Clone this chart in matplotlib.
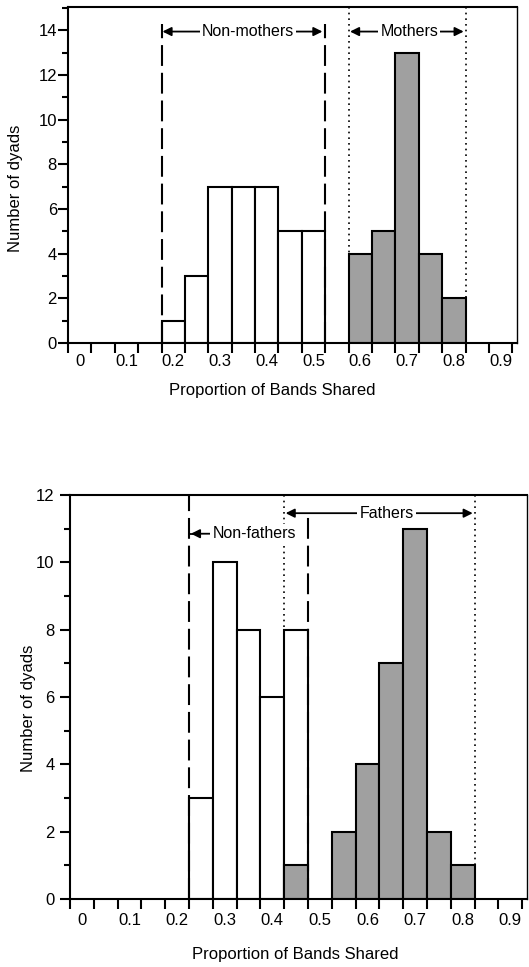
import matplotlib
matplotlib.use('Agg')
import matplotlib.pyplot as plt
import numpy as np

plt.rcParams['font.family'] = ['Liberation Sans', 'DejaVu Sans']

# ---------------- data ----------------
bin_width = 0.05

# top panel: mothers
top_nonmother_centers = [0.20, 0.25, 0.30, 0.35, 0.40, 0.45, 0.50]
top_nonmother_counts = [1, 3, 7, 7, 7, 5, 5]
top_mother_centers = [0.60, 0.65, 0.70, 0.75, 0.80]
top_mother_counts = [4, 5, 13, 4, 2]
top_nonmother_range = [0.175, 0.525]
top_mother_range = [0.575, 0.825]

# bottom panel: fathers
bot_nonfather_centers = [0.25, 0.30, 0.35, 0.40, 0.45]
bot_nonfather_counts = [3, 10, 8, 6, 8]
bot_father_centers = [0.45, 0.55, 0.60, 0.65, 0.70, 0.75, 0.80]
bot_father_counts = [1, 2, 4, 7, 11, 2, 1]
bot_nonfather_range = [0.225, 0.475]
bot_father_range = [0.425, 0.825]

x_label_values = [0, 0.1, 0.2, 0.3, 0.4, 0.5, 0.6, 0.7, 0.8, 0.9]
x_label_texts = ['0', '0.1', '0.2', '0.3', '0.4', '0.5', '0.6', '0.7', '0.8', '0.9']
x_edge_ticks = np.arange(-0.025, 0.93, bin_width)

GREY = '#a0a0a0'
W, H = 529, 967
fig = plt.figure(figsize=(W / 100, H / 100), dpi=100)


def px_axes(l, r, b, t):
    return fig.add_axes([l / W, 1 - b / H, (r - l) / W, (b - t) / H])


ax1 = px_axes(68, 517, 343, 7)
ax2 = px_axes(70, 527, 899, 495)

DASH = (0, (10, 3.3))
DOT = (0, (1, 2.4))


def style(ax, ymax, ymaj, ylabelpad, xlabelpad):
    ax.set_xlim(-0.025, 0.935)
    ax.set_ylim(0, ymax)
    for s in ax.spines.values():
        s.set_linewidth(1.5)
    ax.spines['right'].set_linewidth(1.0)
    ax.set_xticks(x_edge_ticks)
    ax.set_xticklabels([''] * len(x_edge_ticks))
    ax.set_xticks(x_label_values, minor=True)
    ax.set_xticklabels(x_label_texts, minor=True, fontsize=12)
    ax.tick_params(axis='x', which='major', direction='out', length=7, width=1.5)
    ax.tick_params(axis='x', which='minor', length=0, pad=xlabelpad)
    ax.set_yticks(np.arange(0, ymax + 0.01, ymaj))
    ax.set_yticks(np.arange(1, ymax, 2), minor=True)
    ax.tick_params(axis='y', which='major', direction='out', length=7, width=1.5,
                   labelsize=12, pad=ylabelpad)
    ax.tick_params(axis='y', which='minor', direction='out', length=4.3, width=1.5)


def arrow(ax, x0, x1, y):
    ax.annotate('', xy=(x1, y), xytext=(x0, y),
                arrowprops=dict(arrowstyle='-|>', color='k', lw=1.3,
                                mutation_scale=13, shrinkA=0, shrinkB=0),
                zorder=4)


def label(ax, x, y, s):
    ax.text(x, y, s, ha='center', va='center', fontsize=11.5, zorder=5,
            bbox=dict(facecolor='white', edgecolor='none', pad=1.5))


# ---------------- top panel ----------------
style(ax1, 15.05, 2, 1, 8)
ax1.bar(top_nonmother_centers, top_nonmother_counts, width=bin_width,
        color='white', edgecolor='black', linewidth=1.5, zorder=2)
ax1.bar(top_mother_centers, top_mother_counts, width=bin_width,
        color=GREY, edgecolor='black', linewidth=1.5, zorder=2)
for xv in top_nonmother_range:
    ax1.plot([xv, xv], [0, 14.3], color='black', lw=1.5, linestyle=DASH, zorder=3)
for xv in top_mother_range:
    ax1.plot([xv, xv], [0, 15.05], color='black', lw=1.2, linestyle=DOT, zorder=3)
y_top = 13.95
c = 0.36
arrow(ax1, c, top_nonmother_range[0] + 0.002, y_top)
arrow(ax1, c, top_nonmother_range[1] - 0.006, y_top)
label(ax1, c, y_top, 'Non-mothers')
c = 0.705
arrow(ax1, c, top_mother_range[0] + 0.003, y_top)
arrow(ax1, c, top_mother_range[1] - 0.004, y_top)
label(ax1, c, y_top, 'Mothers')

# ---------------- bottom panel ----------------
style(ax2, 12, 2, 4, 10)
ax2.bar(bot_nonfather_centers, bot_nonfather_counts, width=bin_width,
        color='white', edgecolor='black', linewidth=1.5, zorder=2)
ax2.bar(bot_father_centers, bot_father_counts, width=bin_width,
        color=GREY, edgecolor='black', linewidth=1.5, zorder=2)
ax2.plot([bot_nonfather_range[0]] * 2, [0, 12], color='black', lw=1.5,
         linestyle=DASH, zorder=3)
ax2.plot([bot_nonfather_range[1]] * 2, [0, 11.5], color='black', lw=1.5,
         linestyle=DASH, zorder=3)
for xv in bot_father_range:
    ax2.plot([xv, xv], [0, 12], color='black', lw=1.2, linestyle=DOT, zorder=3)
y_f = 11.46
c = 0.64
arrow(ax2, c, bot_father_range[0] + 0.003, y_f)
arrow(ax2, c, bot_father_range[1] - 0.004, y_f)
label(ax2, c, y_f, 'Fathers')
y_nf = 10.85
c = 0.362
ax2.plot([bot_nonfather_range[0], bot_nonfather_range[0] + 0.01], [y_nf, y_nf],
         color='black', lw=1.3, zorder=3)
arrow(ax2, c, bot_nonfather_range[0] + 0.004, y_nf)
label(ax2, c, y_nf, 'Non-fathers')

# axis labels
fig.text(272 / W, 1 - 390 / H, 'Proportion of Bands Shared', ha='center',
         va='center', fontsize=12)
fig.text(295 / W, 1 - 955 / H, 'Proportion of Bands Shared', ha='center',
         va='center', fontsize=12)
fig.text(16 / W, 1 - 188 / H, 'Number of dyads', ha='center', va='center',
         rotation=90, fontsize=12)
fig.text(29 / W, 1 - 708 / H, 'Number of dyads', ha='center', va='center',
         rotation=90, fontsize=12)

fig.savefig('out.png', dpi=100)
